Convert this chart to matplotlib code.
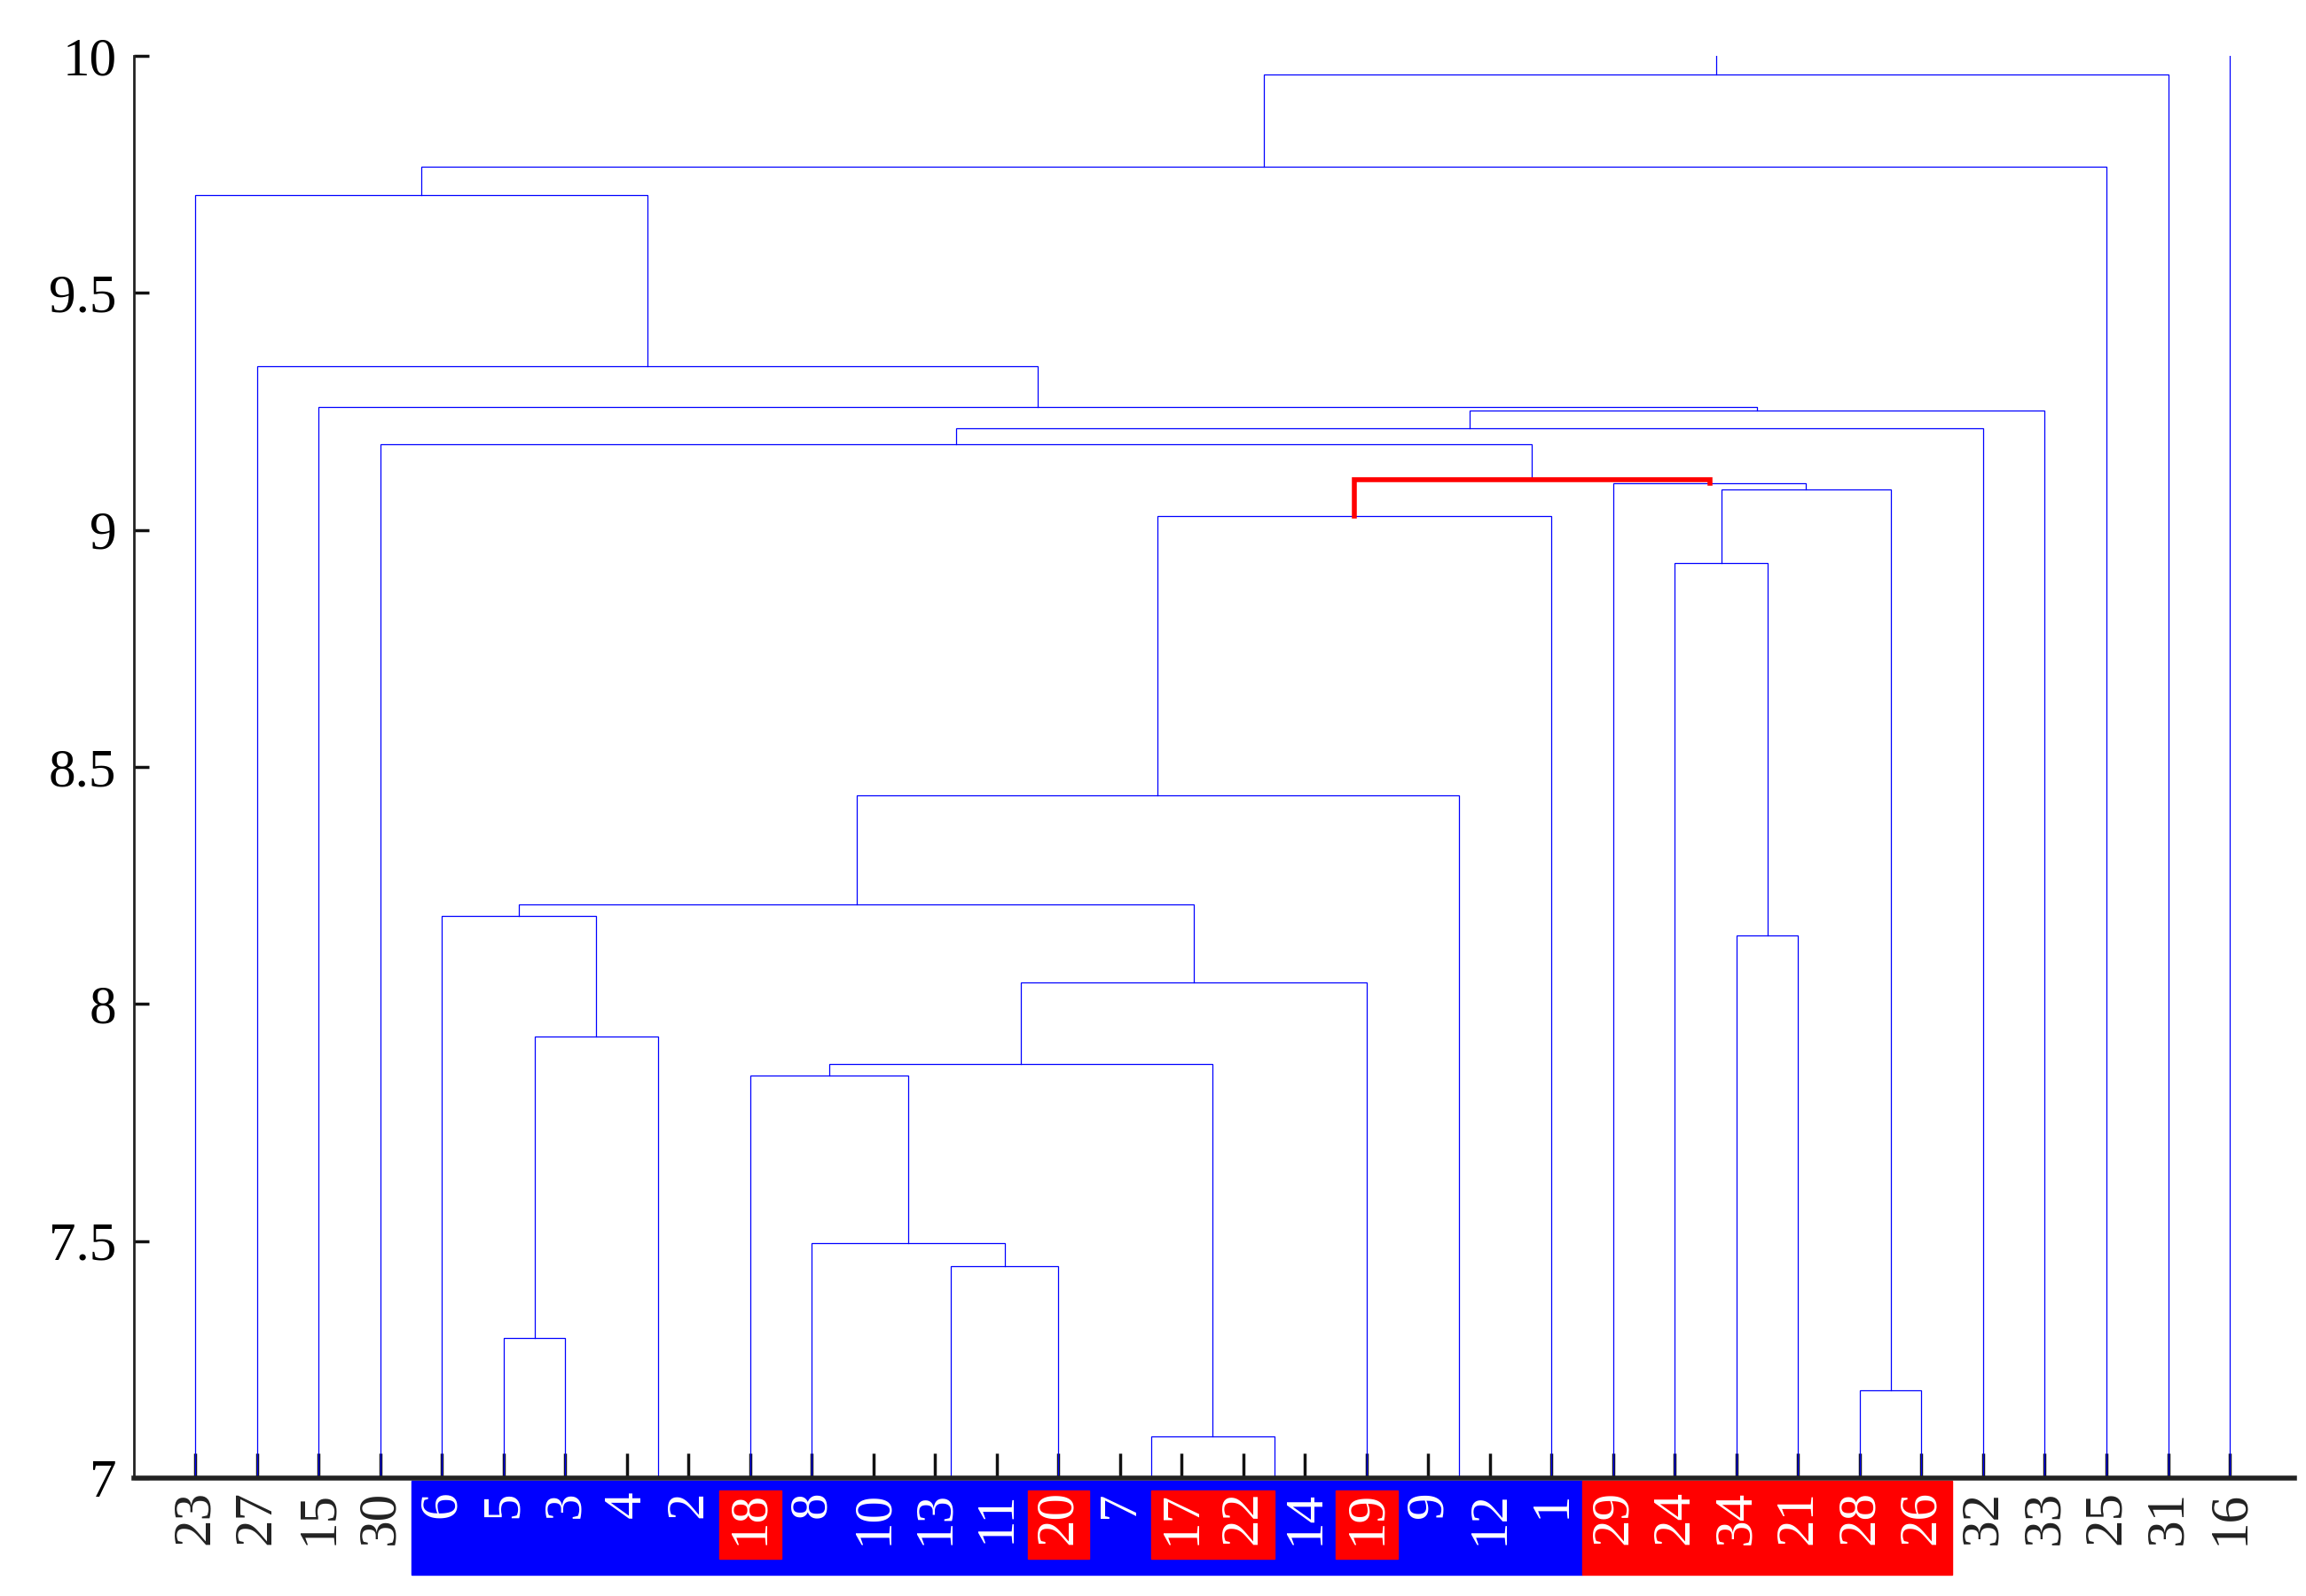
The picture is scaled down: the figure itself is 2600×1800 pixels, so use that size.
import matplotlib
matplotlib.use("Agg")
import matplotlib.pyplot as plt
from matplotlib.patches import Rectangle
from matplotlib.transforms import blended_transform_factory

plt.rcParams['font.family'] = ['Liberation Serif', 'DejaVu Serif']

# leaf order along the x axis
leaf_order = [23, 27, 15, 30, 6, 5, 3, 4, 2, 18, 8, 10, 13, 11, 20, 7, 17, 22, 14, 19,
              9, 12, 1, 29, 24, 34, 21, 28, 26, 32, 33, 25, 31, 16]
# merges: (name, left child, right child, height) -- ints are leaves, strings are clusters
merges = [
    ("a", 4, 2, 6.5), ("b", 10, 13, 6.5), ("c", "b", 11, 6.5), ("d", 7, 17, 6.5),
    ("e", 22, 14, 6.5), ("f", 9, 12, 6.5),
    ("g", 5, 3, 7.296), ("h", "g", "a", 7.932), ("i", 6, "h", 8.185),
    ("j", "d", "e", 7.087), ("k", "c", 20, 7.446), ("l", 8, "k", 7.496),
    ("m", 18, "l", 7.848), ("n", "m", "j", 7.873), ("o", "n", 19, 8.045),
    ("p", "i", "o", 8.21), ("q", "p", "f", 8.44), ("r", "q", 1, 9.03),
    ("s", 28, 26, 7.184), ("t", 34, 21, 8.144), ("u", 24, "t", 8.93),
    ("v", "u", "s", 9.086), ("w", 29, "v", 9.098), ("x", "r", "w", 9.105),
    ("y", 30, "x", 9.18), ("z", "y", 32, 9.214), ("A", "z", 33, 9.251),
    ("B", 15, "A", 9.26), ("C", 27, "B", 9.345), ("D", 23, "C", 9.707),
    ("E", "D", 25, 9.766), ("F", "E", 31, 9.96), ("G", "F", 16, 10.3),
]
red_link = "x"
blue_band = (6, 1)
red_band = (29, 26)
red_labels = [18, 20, 17, 22, 19]

pos = {lab: i for i, lab in enumerate(leaf_order)}
hgt = {lab: 6.0 for lab in leaf_order}

fig = plt.figure(figsize=(26, 18), dpi=100)
ax = fig.add_axes([0.058, 0.074, 0.937, 0.891])

for name, l, r, h in merges:
    xl, xr = pos[l], pos[r]
    red = name == red_link
    ax.plot([xl, xl, xr, xr], [hgt[l], h, h, hgt[r]],
            color="red" if red else "blue", lw=4 if red else 0.9,
            solid_joinstyle="miter", zorder=3 if red else 2)
    pos[name] = (xl + xr) / 2
    hgt[name] = h

ax.set_xlim(-1, 34.05)
ax.set_ylim(7, 10)
ax.set_yticks([7, 7.5, 8, 8.5, 9, 9.5, 10])
ax.set_yticklabels(["7", "7.5", "8", "8.5", "9", "9.5", "10"], fontsize=44)
ax.set_xticks(range(len(leaf_order)))
ax.set_xticklabels([])
ax.tick_params(axis="both", direction="in", length=20, width=2.5, color="#111111")
ax.tick_params(axis="y", length=12, pad=14)
for s in ["top", "right"]:
    ax.spines[s].set_visible(False)
ax.spines["left"].set_linewidth(2)
ax.spines["bottom"].set_linewidth(4)
ax.spines["left"].set_color("#222222")
ax.spines["bottom"].set_color("#222222")

tr = blended_transform_factory(ax.transData, ax.transAxes)
b0, b1 = leaf_order.index(blue_band[0]), leaf_order.index(blue_band[1])
r0, r1 = leaf_order.index(red_band[0]), leaf_order.index(red_band[1])
ax.add_patch(Rectangle((b0 - 0.5, -0.068), b1 - b0 + 1, 0.066, transform=tr,
                       color="blue", clip_on=False))
ax.add_patch(Rectangle((r0 - 0.5, -0.068), r1 - r0 + 1, 0.066, transform=tr,
                       color="red", clip_on=False))
for lab in red_labels:
    i = leaf_order.index(lab)
    ax.add_patch(Rectangle((i - 0.5, -0.057), 1.0, 0.048, transform=tr,
                           color="red", clip_on=False, zorder=3))

for i, lab in enumerate(leaf_order):
    inside = b0 <= i <= r1
    ax.text(i, -0.009, str(lab), transform=tr, rotation=90, ha="center", va="top",
            fontsize=44, color="white" if inside else "#222222", zorder=4)

fig.savefig("out.png", dpi=100)
